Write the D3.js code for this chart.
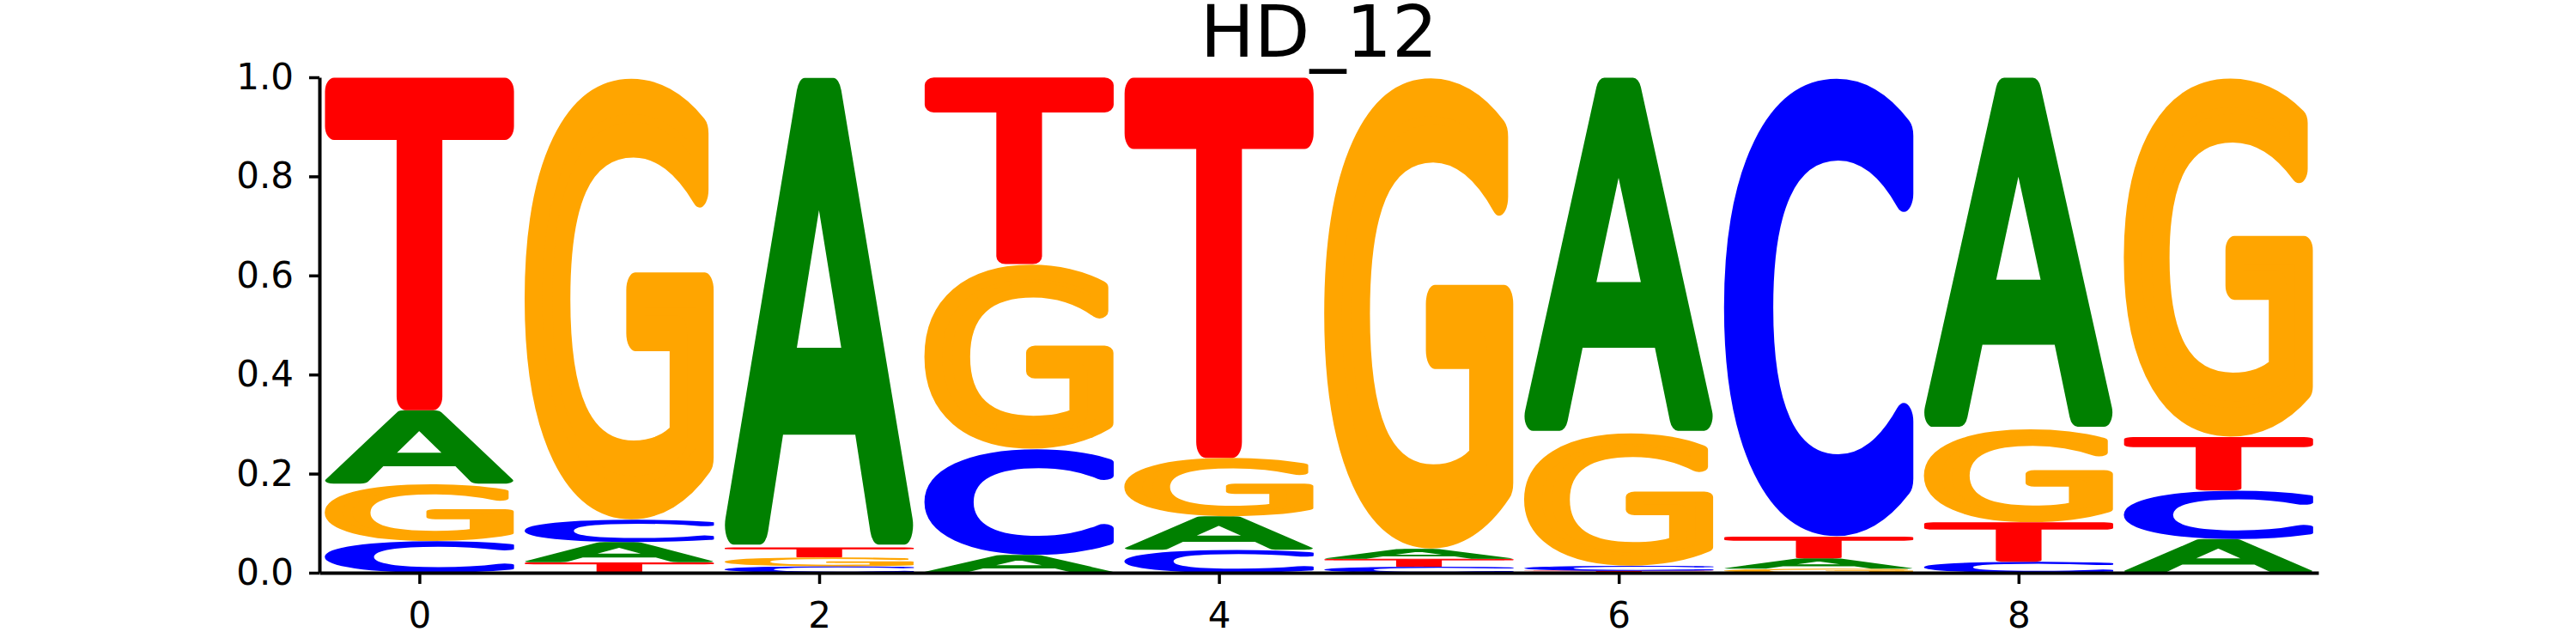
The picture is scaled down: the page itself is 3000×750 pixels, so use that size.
<!DOCTYPE html>
<html>
<head>
<meta charset="utf-8">
<script src="https://d3js.org/d3.v7.min.js"></script>
<style>
  body { margin: 0; background: #fff; }
  svg { display: block; }
</style>
</head>
<body>
<div id="chart"></div>
<script>
// probability of each base at each position
const positions = [0, 1, 2, 3, 4, 5, 6, 7, 8, 9];
const bases = ["A", "C", "G", "T"];
const probA = [0.149, 0.041, 0.949, 0.036, 0.068, 0.020, 0.718, 0.021, 0.710, 0.068];
const probC = [0.064, 0.045, 0.013, 0.214, 0.046, 0.012, 0.010, 0.927, 0.022, 0.098];
const probG = [0.115, 0.893, 0.018, 0.373, 0.118, 0.953, 0.268, 0.008, 0.188, 0.726];
const probT = [0.672, 0.021, 0.020, 0.377, 0.768, 0.016, 0.004, 0.044, 0.080, 0.108];
const xTicks = [0, 2, 4, 6, 8];
const yTicks = [0, 0.2, 0.4, 0.6, 0.8, 1.0];
const title = "HD_12";

const colors = { A: "green", C: "blue", G: "orange", T: "red" };
const probs = { A: probA, C: probC, G: probG, T: probT };

const width = 3000, height = 750;
const margin = { top: 90, right: 300, bottom: 83, left: 372 };
const glyphWidth = 0.95;
const fontFamily = "DejaVu Sans";

const svg = d3.select("#chart")
  .append("svg")
  .attr("width", width)
  .attr("height", height);

const x = d3.scaleLinear().domain([-0.5, 9.5]).range([margin.left, width - margin.right]);
const y = d3.scaleLinear().domain([0, 1]).range([height - margin.bottom, margin.top]);

// tight glyph bounds so each letter can be stretched to fill its box.
// a round-joined stroke in glyph space gives the soft, heavy letter shapes
const ctx = document.createElement("canvas").getContext("2d");
const F = 200;
const strokeW = 0.066 * F;
ctx.font = `${F}px "${fontFamily}"`;
const metrics = {};
bases.forEach((b) => {
  const m = ctx.measureText(b);
  const h = strokeW / 2;
  metrics[b] = {
    left: m.actualBoundingBoxLeft + h,
    right: m.actualBoundingBoxRight + h,
    ascent: m.actualBoundingBoxAscent + h,
    descent: m.actualBoundingBoxDescent + h,
  };
});

// stack letters, smallest at the bottom
const glyphs = [];
positions.forEach((p, i) => {
  const col = bases.map((b) => ({ base: b, value: probs[b][i] }))
    .sort((a, b) => a.value - b.value);
  let floor = 0;
  col.forEach((d) => {
    glyphs.push({ pos: p, base: d.base, y0: floor, y1: floor + d.value });
    floor += d.value;
  });
});

svg.append("g")
  .attr("class", "glyphs")
  .selectAll("text")
  .data(glyphs)
  .join("text")
  .text((d) => d.base)
  .attr("font-family", fontFamily)
  .attr("font-size", F)
  .attr("fill", (d) => colors[d.base])
  .attr("stroke", (d) => colors[d.base])
  .attr("stroke-width", strokeW)
  .attr("stroke-linejoin", "round")
  .attr("transform", (d) => {
    const m = metrics[d.base];
    const bx = x(d.pos - glyphWidth / 2);
    const bw = x(d.pos + glyphWidth / 2) - bx;
    const top = y(d.y1);
    const bh = y(d.y0) - top;
    const sx = bw / (m.left + m.right);
    const sy = bh / (m.ascent + m.descent);
    return `translate(${bx},${top}) scale(${sx},${sy}) translate(${m.left},${m.ascent})`;
  });

// axes
const xAxis = d3.axisBottom(x).tickValues(xTicks).tickFormat(d3.format("d"))
  .tickSize(13).tickSizeOuter(0).tickPadding(21);
const yAxis = d3.axisLeft(y).tickValues(yTicks).tickFormat(d3.format(".1f"))
  .tickSize(12).tickSizeOuter(0).tickPadding(18);

const xAxisGroup = svg.append("g")
  .attr("transform", `translate(0,${height - margin.bottom})`)
  .call(xAxis);
const yAxisGroup = svg.append("g")
  .attr("transform", `translate(${margin.left},0)`)
  .call(yAxis);

[xAxisGroup, yAxisGroup].forEach((g) => {
  g.selectAll("path.domain").attr("stroke", "#000").attr("stroke-width", 4);
  g.selectAll(".tick line").attr("stroke", "#000").attr("stroke-width", 3.5);
  g.selectAll(".tick text")
    .attr("font-family", fontFamily)
    .attr("font-size", 42)
    .attr("fill", "#000");
});

svg.append("text")
  .attr("x", (x(-0.5) + x(9.5)) / 2)
  .attr("y", 66)
  .attr("text-anchor", "middle")
  .attr("font-family", fontFamily)
  .attr("font-size", 84)
  .attr("fill", "#000")
  .text(title);
</script>
</body>
</html>
